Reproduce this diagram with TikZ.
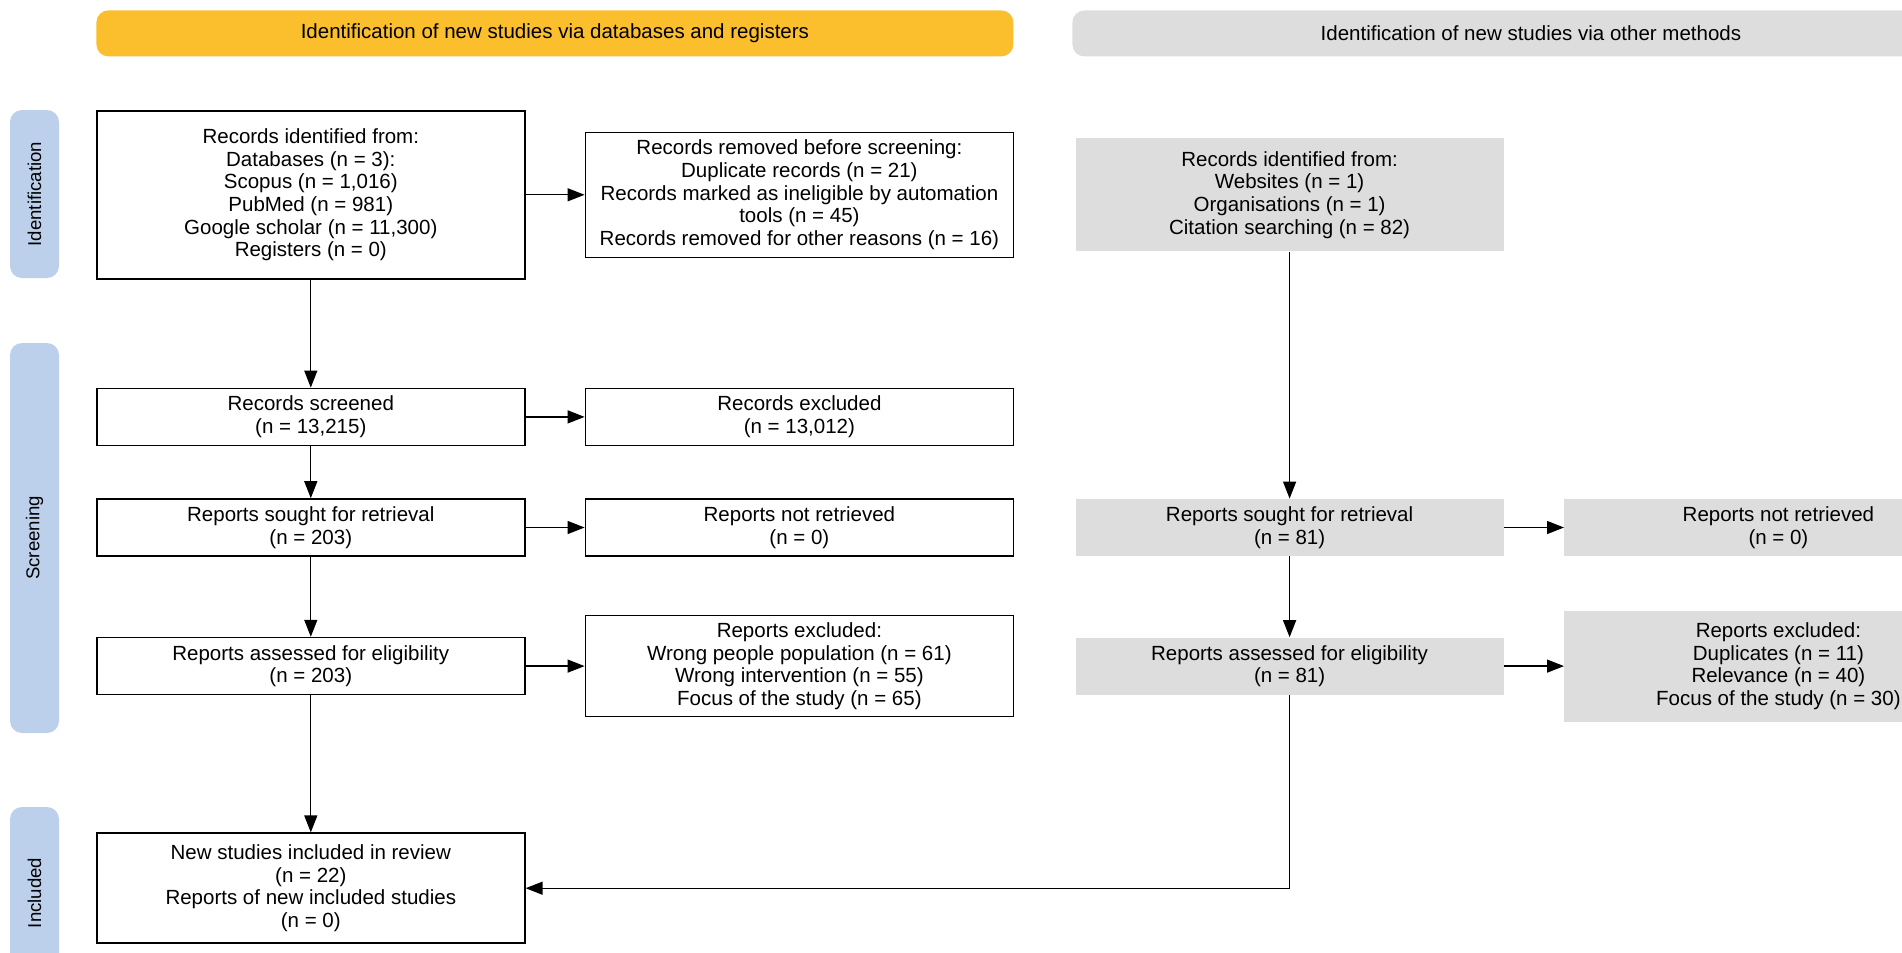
\documentclass[tikz,border=0pt]{standalone}
\usepackage{fontspec}
\setmainfont{Liberation Sans}
\usetikzlibrary{arrows.meta,positioning}
\definecolor{prismayellow}{HTML}{FBBF2E}
\definecolor{prismagray}{HTML}{DDDDDD}
\definecolor{prismablue}{HTML}{BDD0EB}

\begin{document}
\begin{tikzpicture}[
    every node/.style={align=center, font=\fontsize{10.25}{11.3}\selectfont},
    whitebox/.style={draw, line width=0.8pt, fill=white, minimum width=214pt, minimum height=28.5pt, inner sep=2pt},
    graybox/.style={fill=prismagray, minimum width=214pt, minimum height=28.5pt, inner sep=2pt},
    header/.style={rounded corners=6pt, minimum width=458.5pt, minimum height=23pt, inner sep=0pt, anchor=north west},
    sidebar/.style={fill=prismablue, rounded corners=6pt, rotate=90, minimum height=24.5pt, inner sep=0pt, font=\fontsize{9.3}{11}\selectfont},
    arrow/.style={-{Triangle[length=8.5pt, width=6.5pt]}, line width=0.65pt}
]
    \clip (0,0) rectangle (951pt,-476.5pt);

    % column headers
    \node[header, fill=prismayellow] (dbhead) at (48pt,-5pt) {Identification of new studies via databases and registers};
    \node[header, fill=prismagray] (otherhead) at (536pt,-5pt) {Identification of new studies via other methods};

    % phase labels
    \node[sidebar, minimum width=84pt] (identlab) at (17.25pt,-97pt) {Identification};
    \node[sidebar, minimum width=195pt] (screenlab) at (17.25pt,-269pt) {Screening};
    \node[sidebar, minimum width=86pt] (inclab) at (17.25pt,-446.5pt) {Included};

    % databases and registers
    \node[whitebox, minimum height=84pt, anchor=north west] (recdb) at (48pt,-55pt) {Records identified from:\\Databases (n = 3):\\Scopus (n = 1,016)\\PubMed (n = 981)\\Google scholar (n = 11,300)\\Registers (n = 0)};
    \node[whitebox, minimum height=62.5pt, right=29.5pt of recdb] (removed) {Records removed before screening:\\Duplicate records (n = 21)\\Records marked as ineligible by automation\\tools (n = 45)\\Records removed for other reasons (n = 16)};
    \node[whitebox, below=54pt of recdb] (screened) {Records screened\\(n = 13,215)};
    \node[whitebox, right=29.5pt of screened] (excluded) {Records excluded\\(n = 13,012)};
    \node[whitebox, below=26pt of screened] (sought) {Reports sought for retrieval\\(n = 203)};
    \node[whitebox, right=29.5pt of sought] (notretr) {Reports not retrieved\\(n = 0)};
    \node[whitebox, below=40pt of sought] (assessed) {Reports assessed for eligibility\\(n = 203)};
    \node[whitebox, minimum height=50.5pt, right=29.5pt of assessed] (repexcl) {Reports excluded:\\Wrong people population (n = 61)\\Wrong intervention (n = 55)\\Focus of the study (n = 65)};
    \node[whitebox, minimum height=55pt, below=68.5pt of assessed] (included) {New studies included in review\\(n = 22)\\Reports of new included studies\\(n = 0)};

    % other methods
    \node[graybox, minimum height=56.5pt, right=30.5pt of removed] (recother) {Records identified from:\\Websites (n = 1)\\Organisations (n = 1)\\Citation searching (n = 82)};
    \node[graybox, right=30.5pt of notretr] (soughtother) {Reports sought for retrieval\\(n = 81)};
    \node[graybox, right=30pt of soughtother] (notretrother) {Reports not retrieved\\(n = 0)};
    \node[graybox, right=30.5pt of repexcl] (assessedother) {Reports assessed for eligibility\\(n = 81)};
    \node[graybox, minimum height=55.5pt, right=30pt of assessedother] (repexclother) {Reports excluded:\\Duplicates (n = 11)\\Relevance (n = 40)\\Focus of the study (n = 30)};

    \draw[arrow] (recdb) -- (removed);
    \draw[arrow] (recdb) -- (screened);
    \draw[arrow] (screened) -- (excluded);
    \draw[arrow] (screened) -- (sought);
    \draw[arrow] (sought) -- (notretr);
    \draw[arrow] (sought) -- (assessed);
    \draw[arrow] (assessed) -- (repexcl);
    \draw[arrow] (assessed) -- (included);
    \draw[arrow] (recother) -- (soughtother);
    \draw[arrow] (soughtother) -- (notretrother);
    \draw[arrow] (soughtother) -- (assessedother);
    \draw[arrow] (assessedother) -- (repexclother);
    \draw[arrow] (assessedother.south) |- (included.east);
\end{tikzpicture}
\end{document}
